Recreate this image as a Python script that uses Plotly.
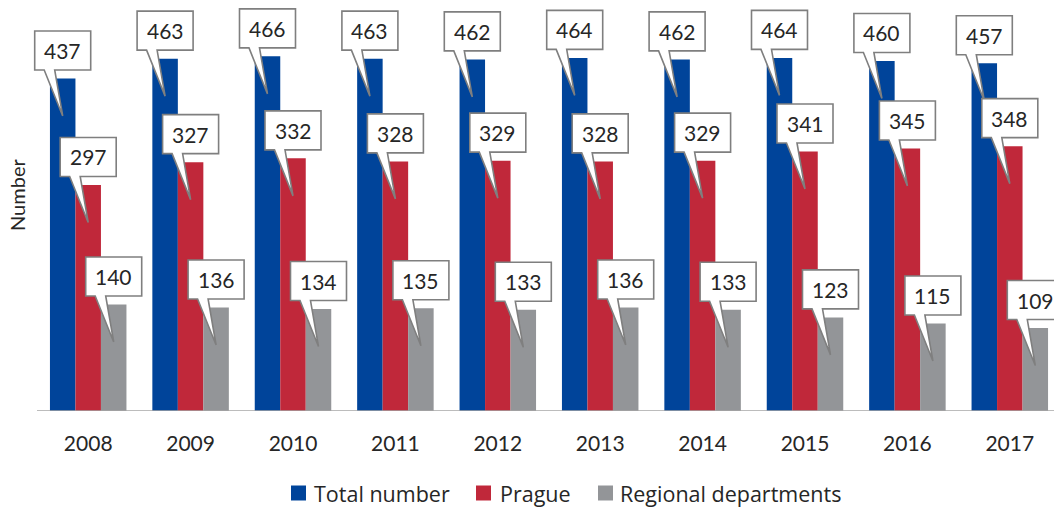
import plotly.graph_objects as go

# Staff counts by year
years = ["2008", "2009", "2010", "2011", "2012", "2013", "2014", "2015", "2016", "2017"]
total_number = [437, 463, 466, 463, 462, 464, 462, 464, 460, 457]
prague = [297, 327, 332, 328, 329, 328, 329, 341, 345, 348]
regional = [140, 136, 134, 135, 133, 136, 133, 123, 115, 109]

series_names = ["Total number", "Prague", "Regional departments"]
series_colors = ["#00449A", "#C0283A", "#939598"]
series_values = [total_number, prague, regional]

FONT = "Lato, 'Open Sans', sans-serif"
LEGEND_FONT = "'Open Sans', Lato, sans-serif"
TEXT_COLOR = "#262626"

W, H = 1054, 509
M_B = 98
PLOT_H = H - M_B
AXIS_START_PX = 37      # where the category axis begins
CAT_PX = 102.4          # pixel width of one year slot
PX_PER_UNIT = 0.761     # vertical scale
BARGAP = 0.253
bar_w = (1 - BARGAP) / 3

x = list(range(len(years)))
x_min = -0.5 - AXIS_START_PX / CAT_PX
x_max = x_min + W / CAT_PX

fig = go.Figure()
for name, vals, color in zip(series_names, series_values, series_colors):
    fig.add_trace(go.Bar(
        x=x, y=vals, name=name,
        marker=dict(color=color, line=dict(width=0)),
        showlegend=False, hoverinfo="x+y+name",
    ))

shapes = []
annotations = []

# Category axis baseline
shapes.append(dict(
    type="line", xref="x", yref="y", x0=-0.5, x1=x_max, y0=0, y1=0,
    line=dict(color="#A6A6A6", width=1.5), layer="above",
))

# Speech-bubble callout, in pixels relative to the top centre of a bar (y up)
BUBBLE = ("M -28,47.5 L 28,47.5 L 28,8.5 L -8,8.5 L 0,-37.5 "
          "L -18.5,8.5 L -28,8.5 Z")

for k, vals in enumerate(series_values):
    for i, v in enumerate(vals):
        xc = i + (k - 1) * bar_w
        shapes.append(dict(
            type="path", xref="x", yref="y",
            xsizemode="pixel", ysizemode="pixel",
            xanchor=xc, yanchor=v, path=BUBBLE,
            fillcolor="white", line=dict(color="#7F7F7F", width=1.6),
            layer="above",
        ))
        annotations.append(dict(
            x=xc, y=v, xref="x", yref="y", text=str(v), showarrow=False,
            yshift=28, xanchor="center", yanchor="middle",
            font=dict(family=FONT, size=21, color=TEXT_COLOR),
        ))

def px_x(px):
    return px / W

def px_y(py):
    return (PLOT_H - py) / PLOT_H

# Axis title
annotations.append(dict(
    text="Number", xref="paper", yref="paper", x=px_x(17), y=px_y(195),
    showarrow=False, textangle=-90, xanchor="center", yanchor="middle",
    font=dict(family=FONT, size=20, color=TEXT_COLOR),
))

# Legend row
legend_items = [(298.5, 312), (483.5, 498), (605.5, 618)]
LEG_Y = 493
for (sq_cx, tx), name, color in zip(legend_items, series_names, series_colors):
    shapes.append(dict(
        type="rect", xref="paper", yref="paper",
        x0=px_x(sq_cx - 7.5), x1=px_x(sq_cx + 7.5),
        y0=px_y(LEG_Y + 7.5), y1=px_y(LEG_Y - 7.5),
        fillcolor=color, line=dict(width=0),
    ))
    annotations.append(dict(
        text=name, xref="paper", yref="paper", x=px_x(tx), y=px_y(LEG_Y),
        showarrow=False, xanchor="left", yanchor="middle",
        font=dict(family=LEGEND_FONT, size=21.5, color=TEXT_COLOR),
    ))

fig.update_layout(
    width=W, height=H,
    margin=dict(l=0, r=0, t=0, b=M_B, pad=0),
    paper_bgcolor="white", plot_bgcolor="white",
    barmode="group", bargap=BARGAP, bargroupgap=0,
    showlegend=False,
    shapes=shapes, annotations=annotations,
    xaxis=dict(
        range=[x_min, x_max],
        tickvals=x, ticktext=years, ticks="",
        showgrid=False, zeroline=False, showline=False,
        tickfont=dict(family=FONT, size=21, color=TEXT_COLOR),
        ticklabelstandoff=18,
    ),
    yaxis=dict(
        range=[0, PLOT_H / PX_PER_UNIT],
        visible=False, showgrid=False, zeroline=False,
    ),
)

fig.write_html("out.html")
